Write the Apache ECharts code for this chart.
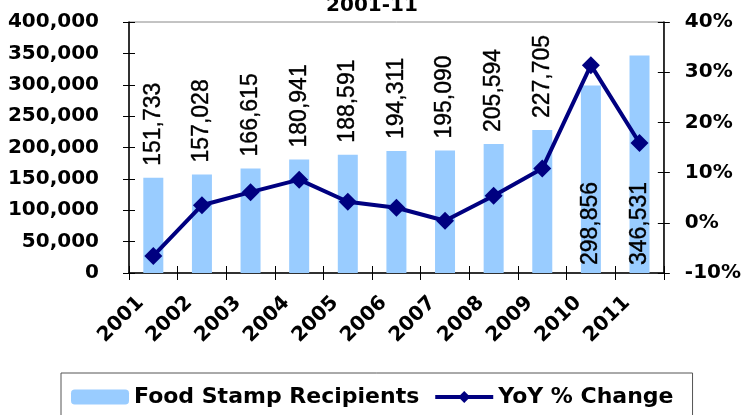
<!DOCTYPE html>
<html lang="en">
<head>
	<meta charset="utf-8">
	<title>Food Stamp Recipients 2001-11</title>
	<script src="https://cdn.jsdelivr.net/npm/echarts@6/dist/echarts.min.js"></script>
	<style>
		html, body { margin: 0; padding: 0; background: #fff; }
		#chart { width: 744px; height: 415px; }
	</style>
</head>
<body>
<div id="chart"></div>
<script>
    var years = ['2001', '2002', '2003', '2004', '2005', '2006', '2007', '2008', '2009', '2010', '2011'];
    var recipients = [151733, 157028, 166615, 180941, 188591, 194311, 195090, 205594, 227705, 298856, 346531];
    var yoyChange = [-6.6, 3.5, 6.1, 8.6, 4.2, 3.0, 0.4, 5.4, 10.8, 31.4, 15.9];
    // axis scales: [min, max, step]
    var leftScale = [0, 400000, 50000];
    var rightScale = [-10, 40, 10];

    var boldFont = {fontFamily: 'DejaVu Sans', fontWeight: 'bold', color: '#000'};
    var axisLine = {show: true, lineStyle: {color: '#000', width: 1.5}};

    // labels of tall bars go inside, at the foot of the bar
    var barData = recipients.map(function (v) {
        if (v < 250000) return v;
        return {
            value: v,
            label: {position: 'insideBottom', distance: 8}
        };
    });

    var chart = echarts.init(document.getElementById('chart'));
    chart.setOption({
        animation: false,
        backgroundColor: '#fff',
        title: {
            text: '2001-11',
            left: 'center',
            top: -9,
            textStyle: {fontFamily: 'DejaVu Sans', fontWeight: 'bold', fontSize: 20, color: '#000'}
        },
        grid: {
            left: 129, right: 78, top: 22, bottom: 142,
            show: true, borderColor: '#888', borderWidth: 1
        },
        legend: {
            left: 61, top: 373,
            padding: [13, 19, 13, 10],
            borderColor: '#555', borderWidth: 1,
            itemWidth: 58, itemHeight: 15, itemGap: 14,
            textStyle: {fontFamily: 'DejaVu Sans', fontWeight: 'bold', fontSize: 22, color: '#000'},
            data: ['Food Stamp Recipients', {name: 'YoY % Change', lineStyle: {width: 4}}]
        },
        xAxis: [{
            type: 'category',
            data: years,
            position: 'bottom',
            axisLine: {show: true, onZero: false, lineStyle: {color: '#000', width: 1.5}},
            axisTick: {show: true, length: 7, lineStyle: {color: '#000'}},
            axisLabel: Object.assign({fontSize: 20, rotate: 45, margin: 14, padding: [0, 18, 0, 0], interval: 0}, boldFont)
        }, {
            // inner half of the crossing ticks
            type: 'category',
            data: years,
            position: 'bottom',
            axisLine: {show: false, onZero: false},
            axisTick: {show: true, inside: true, length: 7, lineStyle: {color: '#000'}},
            axisLabel: {show: false}
        }],
        yAxis: [{
            type: 'value',
            position: 'left',
            min: leftScale[0], max: leftScale[1], interval: leftScale[2],
            axisLine: axisLine,
            axisTick: {show: true, length: 6, lineStyle: {color: '#000'}},
            splitLine: {show: false},
            axisLabel: Object.assign({fontSize: 20, margin: 30, formatter: function (v) {
                return v.toLocaleString('en-US');
            }}, boldFont)
        }, {
            type: 'value',
            position: 'right',
            min: rightScale[0], max: rightScale[1], interval: rightScale[2],
            axisLine: axisLine,
            axisTick: {show: true, length: 6, lineStyle: {color: '#000'}},
            splitLine: {show: false},
            axisLabel: Object.assign({fontSize: 20, margin: 21, formatter: '{value}%'}, boldFont)
        }, {
            type: 'value',
            position: 'left',
            min: leftScale[0], max: leftScale[1], interval: leftScale[2],
            axisLine: {show: false},
            axisTick: {show: true, inside: true, length: 6, lineStyle: {color: '#000'}},
            splitLine: {show: false},
            axisLabel: {show: false}
        }, {
            type: 'value',
            position: 'right',
            min: rightScale[0], max: rightScale[1], interval: rightScale[2],
            axisLine: {show: false},
            axisTick: {show: true, inside: true, length: 6, lineStyle: {color: '#000'}},
            splitLine: {show: false},
            axisLabel: {show: false}
        }],
        series: [{
            name: 'Food Stamp Recipients',
            type: 'bar',
            yAxisIndex: 0,
            barWidth: 20,
            itemStyle: {color: '#99CCFF'},
            label: {
                show: true,
                position: 'top',
                distance: 12,
                rotate: 90,
                align: 'left',
                verticalAlign: 'middle',
                fontFamily: 'Liberation Sans',
                fontSize: 23,
                color: '#000',
                textBorderColor: '#000',
                textBorderWidth: 0.4,
                formatter: function (p) {
                    return p.value.toLocaleString('en-US');
                }
            },
            data: barData
        }, {
            name: 'YoY % Change',
            type: 'line',
            yAxisIndex: 1,
            symbol: 'diamond',
            symbolSize: 18,
            lineStyle: {color: '#000080', width: 4},
            itemStyle: {color: '#000080'},
            data: yoyChange
        }]
    });
</script>
</body>
</html>
